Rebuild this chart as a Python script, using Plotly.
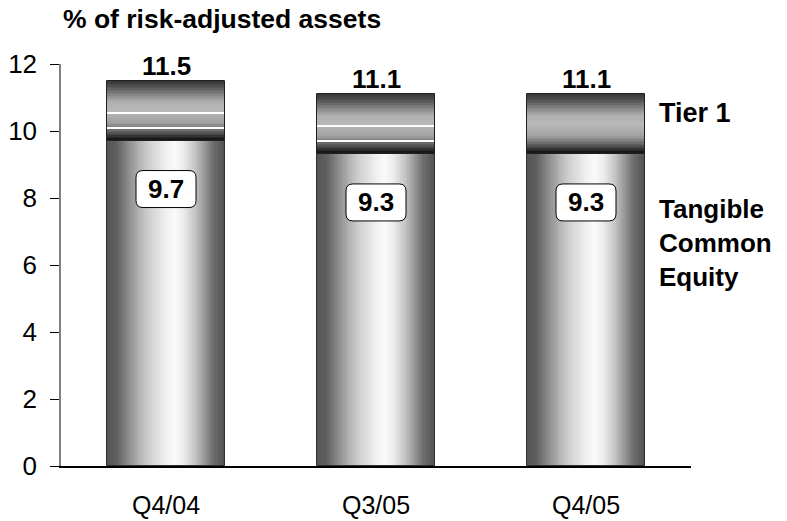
import numpy as np
import plotly.graph_objects as go

# Capital ratios, % of risk-adjusted assets
quarters = ["Q4/04", "Q3/05", "Q4/05"]
tangible_common_equity = [9.7, 9.3, 9.3]
tier1 = [11.5, 11.1, 11.1]
y_ticks = [0, 2, 4, 6, 8, 10, 12]

# Thin white highlight bands inside the Tier 1 segment (fraction of segment height)
band_fracs = [0.228, 0.476]
band_on = [True, True, False]

BAR_W = 0.562
FONT = "Liberation Sans, Arial, sans-serif"

# Cylinder-style shading: horizontal profile for the lower segment,
# vertical profile for the Tier 1 cap
h_stops = [0.00, 0.08, 0.20, 0.35, 0.50, 0.57, 0.65, 0.78, 0.90, 1.00]
h_gray = [85, 95, 150, 205, 240, 250, 235, 180, 110, 80]
v_stops = [0.00, 0.05, 0.15, 0.30, 0.50, 0.65, 0.80, 0.92, 1.00]
v_gray = [10, 30, 90, 160, 185, 175, 120, 75, 55]


def gray(v):
    v = int(round(v))
    return f"rgb({v},{v},{v})"


fig = go.Figure()

# Lower segment: tangible common equity, split into vertical strips
NX = 60
step = BAR_W / NX
xs, ys, offs, wids, cols = [], [], [], [], []
for q, v in zip(quarters, tangible_common_equity):
    for k in range(NX):
        t = (k + 0.5) / NX
        off = -BAR_W / 2 + k * step
        xs.append(q)
        ys.append(v)
        offs.append(off)
        wids.append(min(step * 1.4, BAR_W / 2 - off))
        cols.append(gray(np.interp(t, h_stops, h_gray)))
fig.add_trace(go.Bar(x=xs, y=ys, offset=offs, width=wids,
                     marker=dict(color=cols, line=dict(width=0)),
                     hoverinfo="skip"))

# Upper segment: Tier 1 above tangible common equity, split into horizontal strips
NY = 40
xs, ys, bases, cols = [], [], [], []
for q, lo, hi in zip(quarters, tangible_common_equity, tier1):
    seg = hi - lo
    dy = seg / NY
    for k in range(NY):
        s = (k + 0.5) / NY
        b = lo + k * dy
        xs.append(q)
        bases.append(b)
        ys.append(min(dy * 1.4, hi - b))
        cols.append(gray(np.interp(s, v_stops, v_gray)))
fig.add_trace(go.Bar(x=xs, y=ys, base=bases, width=BAR_W, offset=-BAR_W / 2,
                     marker=dict(color=cols, line=dict(width=0)),
                     hoverinfo="skip"))

# White highlight bands
bx, bb, by = [], [], []
thick = 0.045
for q, lo, hi, on in zip(quarters, tangible_common_equity, tier1, band_on):
    if not on:
        continue
    for f in band_fracs:
        bx.append(q)
        bb.append(lo + f * (hi - lo) - thick / 2)
        by.append(thick)
fig.add_trace(go.Bar(x=bx, y=by, base=bb, width=BAR_W, offset=-BAR_W / 2,
                     marker=dict(color="white", line=dict(width=0)),
                     hoverinfo="skip"))

# Outlines of both segments
fig.add_trace(go.Bar(x=quarters, y=tangible_common_equity, width=BAR_W, offset=-BAR_W / 2,
                     marker=dict(color="rgba(0,0,0,0)", line=dict(color="#303030", width=1)),
                     hoverinfo="skip"))
fig.add_trace(go.Bar(x=quarters,
                     y=[hi - lo for lo, hi in zip(tangible_common_equity, tier1)],
                     base=tangible_common_equity, width=BAR_W, offset=-BAR_W / 2,
                     marker=dict(color="rgba(0,0,0,0)", line=dict(color="#202020", width=1)),
                     hoverinfo="skip"))

annotations = []
shapes = []

# Totals above each bar
for q, v in zip(quarters, tier1):
    annotations.append(dict(x=q, y=v, xref="x", yref="y", text=f"<b>{v:.1f}</b>",
                            showarrow=False, yanchor="middle", yshift=15,
                            font=dict(family=FONT, size=26, color="black")))

# Boxed tangible common equity values
BOX_W, BOX_H, BOX_DROP, R = 60, 37, 48, 7
for i, (q, v) in enumerate(zip(quarters, tangible_common_equity)):
    x0, x1 = -BOX_W / 2, BOX_W / 2
    y1 = -BOX_DROP + BOX_H / 2
    y0 = -BOX_DROP - BOX_H / 2
    path = (f"M {x0 + R},{y1} L {x1 - R},{y1} Q {x1},{y1} {x1},{y1 - R} "
            f"L {x1},{y0 + R} Q {x1},{y0} {x1 - R},{y0} "
            f"L {x0 + R},{y0} Q {x0},{y0} {x0},{y0 + R} "
            f"L {x0},{y1 - R} Q {x0},{y1} {x0 + R},{y1} Z")
    shapes.append(dict(type="path", xref="x", yref="y", xsizemode="pixel",
                       ysizemode="pixel", xanchor=i, yanchor=v, path=path,
                       fillcolor="white", line=dict(color="black", width=1)))
    annotations.append(dict(x=q, y=v, xref="x", yref="y", text=f"<b>{v:.1f}</b>",
                            showarrow=False, yanchor="middle", yshift=-BOX_DROP,
                            font=dict(family=FONT, size=26, color="black")))

# Series names on the right
annotations.append(dict(x=0.946, y=10.54, xref="paper", yref="y", text="<b>Tier 1</b>",
                        showarrow=False, xanchor="left", yanchor="middle", align="left",
                        font=dict(family=FONT, size=27, color="black")))
annotations.append(dict(x=0.946, y=6.66, xref="paper", yref="y",
                        text="<b>Tangible<br>Common<br>Equity</b>",
                        showarrow=False, xanchor="left", yanchor="middle", align="left",
                        font=dict(family=FONT, size=26, color="black")))

# Axis title at the top-left
annotations.append(dict(x=0, y=1.112, xref="paper", yref="paper",
                        text="<b>% of risk-adjusted assets</b>",
                        showarrow=False, xanchor="left", yanchor="middle",
                        font=dict(family=FONT, size=26.5, color="black")))

fig.update_layout(
    width=787, height=521,
    margin=dict(l=61, r=96, t=64, b=55),
    paper_bgcolor="white", plot_bgcolor="white",
    barmode="overlay", showlegend=False, bargap=0,
    font=dict(family=FONT, color="black"),
    annotations=annotations, shapes=shapes,
    xaxis=dict(type="category", range=[-0.5, 2.5], showgrid=False, zeroline=False,
               showline=True, linecolor="black", linewidth=1.5, ticks="",
               tickfont=dict(family=FONT, size=25, color="black"),
               ticklabelstandoff=16, automargin=False),
    yaxis=dict(range=[0, 12], tickvals=y_ticks, showgrid=False, zeroline=False,
               showline=True, linecolor="#808080", linewidth=1.5,
               ticks="outside", ticklen=9, tickcolor="black", tickwidth=1,
               tickfont=dict(family=FONT, size=26, color="black"),
               ticklabelstandoff=8, automargin=False),
)

fig.write_html("out.html")
